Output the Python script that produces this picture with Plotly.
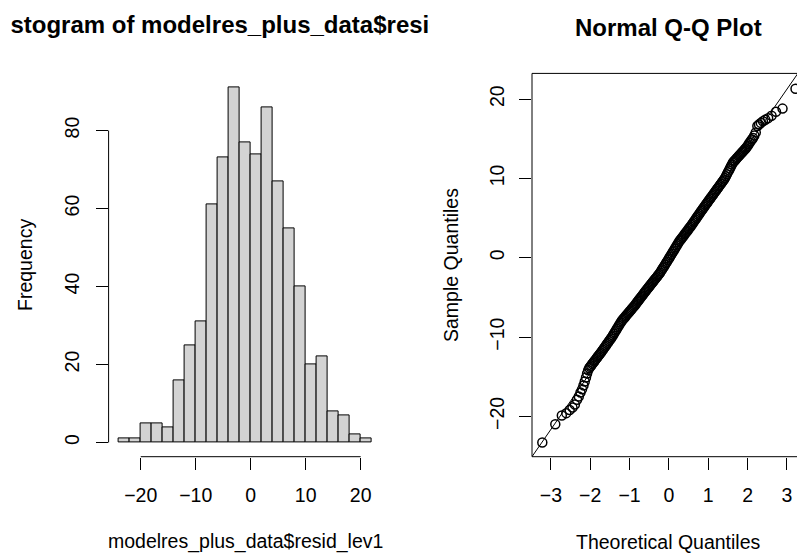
import plotly.graph_objects as go

W, H = 797, 553
FONT = "Liberation Sans, Arial, sans-serif"

# ---------------- data ----------------
hist_title = "Histogram of modelres_plus_data$resid_lev1"
hist_xlabel = "modelres_plus_data$resid_lev1"
hist_ylabel = "Frequency"
hist_bin_starts = [-24, -22, -20, -18, -16, -14, -12, -10, -8, -6, -4, -2,
                   0, 2, 4, 6, 8, 10, 12, 14, 16, 18, 20]
hist_counts = [1, 1, 5, 5, 4, 16, 25, 31, 61, 73, 91, 77,
               74, 86, 67, 55, 40, 20, 22, 8, 7, 2, 1]
hist_bin_width = 2
hist_xticks = [-20, -10, 0, 10, 20]
hist_yticks = [0, 20, 40, 60, 80]

qq_title = "Normal Q-Q Plot"
qq_xlabel = "Theoretical Quantiles"
qq_ylabel = "Sample Quantiles"
qq_xticks = [-3, -2, -1, 0, 1, 2, 3]
qq_yticks = [-20, -10, 0, 10, 20]

# lower tail (individual points)
qq_theo_low = [-3.218, -2.888, -2.722, -2.609, -2.523, -2.451, -2.390, -2.336,
               -2.290, -2.248, -2.208, -2.172, -2.139, -2.108, -2.080, -2.052]
qq_samp_low = [-23.3, -21.0, -19.9, -19.6, -19.2, -18.9, -18.5, -17.9,
               -17.5, -17.0, -16.6, -16.1, -15.6, -15.1, -14.6, -14.2]

# dense central band
qq_theo_mid = [-2.025, -2.000, -1.975, -1.950, -1.925, -1.900, -1.875, -1.850, -1.825, -1.800,
               -1.775, -1.750, -1.725, -1.700, -1.675, -1.650, -1.625, -1.600, -1.575, -1.550,
               -1.525, -1.500, -1.475, -1.450, -1.425, -1.400, -1.375, -1.350, -1.325, -1.300,
               -1.275, -1.250, -1.225, -1.200, -1.175, -1.150, -1.125, -1.100, -1.075, -1.050,
               -1.025, -1.000, -0.975, -0.950, -0.925, -0.900, -0.875, -0.850, -0.825, -0.800,
               -0.775, -0.750, -0.725, -0.700, -0.675, -0.650, -0.625, -0.600, -0.575, -0.550,
               -0.525, -0.500, -0.475, -0.450, -0.425, -0.400, -0.375, -0.350, -0.325, -0.300,
               -0.275, -0.250, -0.225, -0.200, -0.175, -0.150, -0.125, -0.100, -0.075, -0.050,
               -0.025, 0.000, 0.025, 0.050, 0.075, 0.100, 0.125, 0.150, 0.175, 0.200,
               0.225, 0.250, 0.275, 0.300, 0.325, 0.350, 0.375, 0.400, 0.425, 0.450,
               0.475, 0.500, 0.525, 0.550, 0.575, 0.600, 0.625, 0.650, 0.675, 0.700,
               0.725, 0.750, 0.775, 0.800, 0.825, 0.850, 0.875, 0.900, 0.925, 0.950,
               0.975, 1.000, 1.025, 1.050, 1.075, 1.100, 1.125, 1.150, 1.175, 1.200,
               1.225, 1.250, 1.275, 1.300, 1.325, 1.350, 1.375, 1.400, 1.425, 1.450,
               1.475, 1.500, 1.525, 1.550, 1.575, 1.600, 1.625, 1.650, 1.675, 1.700,
               1.725, 1.750, 1.775, 1.800, 1.825, 1.850, 1.875, 1.900, 1.925, 1.950,
               1.975]
qq_samp_mid = [-13.90, -13.74, -13.58, -13.41, -13.25, -13.08, -12.92, -12.76, -12.59, -12.43,
               -12.27, -12.10, -11.94, -11.76, -11.59, -11.41, -11.24, -11.06, -10.89, -10.71,
               -10.54, -10.36, -10.19, -10.01, -9.81, -9.60, -9.40, -9.19, -8.99, -8.78,
               -8.58, -8.37, -8.16, -7.97, -7.82, -7.67, -7.53, -7.38, -7.23, -7.08,
               -6.93, -6.79, -6.64, -6.49, -6.34, -6.20, -6.05, -5.89, -5.73, -5.56,
               -5.40, -5.24, -5.07, -4.91, -4.75, -4.59, -4.42, -4.26, -4.10, -3.94,
               -3.78, -3.63, -3.47, -3.32, -3.16, -3.00, -2.85, -2.69, -2.54, -2.38,
               -2.22, -2.07, -1.89, -1.69, -1.49, -1.29, -1.10, -0.90, -0.70, -0.50,
               -0.30, -0.10, 0.10, 0.30, 0.51, 0.72, 0.92, 1.13, 1.33, 1.54,
               1.74, 1.95, 2.13, 2.29, 2.45, 2.62, 2.78, 2.95, 3.11, 3.28,
               3.44, 3.61, 3.77, 3.93, 4.11, 4.29, 4.47, 4.65, 4.83, 5.01,
               5.19, 5.37, 5.55, 5.73, 5.91, 6.08, 6.25, 6.43, 6.60, 6.77,
               6.94, 7.11, 7.29, 7.46, 7.63, 7.80, 7.97, 8.14, 8.32, 8.49,
               8.66, 8.83, 9.00, 9.17, 9.34, 9.51, 9.68, 9.86, 10.04, 10.28,
               10.52, 10.77, 11.01, 11.25, 11.50, 11.74, 11.98, 12.13, 12.26, 12.40,
               12.54, 12.68, 12.82, 12.95, 13.09, 13.23, 13.37, 13.50, 13.64, 13.78,
               13.92]

# upper tail (individual points)
qq_theo_high = [2.002, 2.026, 2.052, 2.079, 2.108, 2.139, 2.172, 2.208, 2.248,
                2.290, 2.336, 2.390, 2.451, 2.523, 2.609, 2.722, 2.888, 3.218]
qq_samp_high = [14.1, 14.3, 14.5, 14.7, 14.9, 15.1, 15.4, 15.8, 16.6,
                16.8, 17.0, 17.2, 17.4, 17.6, 17.9, 18.4, 18.8, 21.3]

qqline_intercept = -0.20
qqline_slope = 7.15

# ---------------- helpers ----------------
def px_x(p):
    return p / W

def px_y(p):
    return 1 - p / H

TOP, BOTTOM = 73.4, 456.7
ydom = [px_y(BOTTOM), px_y(TOP)]

fig = go.Figure()

# histogram bars
bar_centers = [s + hist_bin_width / 2 for s in hist_bin_starts]
fig.add_trace(go.Bar(
    x=bar_centers, y=hist_counts, width=[hist_bin_width] * len(hist_counts),
    marker=dict(color="#D3D3D3", line=dict(color="black", width=1)),
    xaxis="x", yaxis="y", hoverinfo="skip"))

# QQ points
qq_theo = qq_theo_low + qq_theo_mid + qq_theo_high
qq_samp = qq_samp_low + qq_samp_mid + qq_samp_high
fig.add_trace(go.Scatter(
    x=qq_theo, y=qq_samp, mode="markers",
    marker=dict(symbol="circle-open", size=9, color="black", line=dict(width=1.5)),
    xaxis="x2", yaxis="y2", hoverinfo="skip"))

# QQ reference line
line_x = [-3.6, 3.6]
fig.add_trace(go.Scatter(
    x=line_x, y=[qqline_intercept + qqline_slope * v for v in line_x],
    mode="lines", line=dict(color="black", width=1),
    xaxis="x2", yaxis="y2", hoverinfo="skip"))

TITLE_FONT = dict(family=FONT, size=24, color="black", weight="bold")

# clipped main title of the histogram (as in the original device)
fig.add_trace(go.Scatter(
    x=[245.2], y=[0.5], mode="text", text=[hist_title],
    textposition="middle center", textfont=TITLE_FONT,
    cliponaxis=True, xaxis="x3", yaxis="y3", hoverinfo="skip"))

tickfont = dict(family=FONT, size=19.5, color="black")
common = dict(showgrid=False, zeroline=False, showline=False, ticks="outside",
              ticklen=12, tickwidth=1, tickcolor="black", tickfont=tickfont)

fig.update_layout(
    width=W, height=H, margin=dict(l=0, r=0, t=0, b=0),
    paper_bgcolor="white", plot_bgcolor="white", showlegend=False,
    bargap=0,
    xaxis=dict(domain=[px_x(108.6), px_x(381.8)], range=[-25.84, 23.84],
               tickvals=hist_xticks, anchor="y", ticklabelstandoff=9, **common),
    yaxis=dict(domain=ydom, range=[-3.64, 94.64], tickvals=hist_yticks,
               tickangle=-90, anchor="x", ticklabelstandoff=9, **common),
    xaxis2=dict(domain=[px_x(532), 1.0], range=[-3.48, 3.256],
                tickvals=qq_xticks, anchor="y2", ticklabelstandoff=9, **common),
    yaxis2=dict(domain=ydom, range=[-25.09, 23.24], tickvals=qq_yticks,
                tickangle=-90, anchor="x2", ticklabelstandoff=7, **common),
    xaxis3=dict(domain=[px_x(10), px_x(430)], range=[10, 430], visible=False, anchor="y3"),
    yaxis3=dict(domain=[px_y(51), px_y(3)], range=[0, 1], visible=False, anchor="x3"),
)

# axis lines in R style
shapes = [
    dict(type="line", xref="x", yref="y domain", x0=hist_xticks[0], x1=hist_xticks[-1],
         y0=0, y1=0, line=dict(color="black", width=1)),
    dict(type="line", xref="x domain", yref="y", x0=0, x1=0,
         y0=hist_yticks[0], y1=hist_yticks[-1], line=dict(color="black", width=1)),
    dict(type="line", xref="x2 domain", yref="y2 domain", x0=0, x1=0, y0=0, y1=1,
         line=dict(color="black", width=1)),
    dict(type="line", xref="x2 domain", yref="y2 domain", x0=0, x1=1, y0=1, y1=1,
         line=dict(color="black", width=1)),
    dict(type="line", xref="x2 domain", yref="y2 domain", x0=0, x1=1, y0=0, y1=0,
         line=dict(color="black", width=1)),
]
fig.update_layout(shapes=shapes)

lab = dict(family=FONT, size=19.5, color="black")
ann = [
    dict(text=hist_ylabel, x=px_x(25), y=px_y(265), textangle=-90, font=lab),
    dict(text=hist_xlabel, x=px_x(245.2), y=px_y(541.7), font=lab),
    dict(text=qq_title, x=px_x(668.9), y=px_y(27), font=TITLE_FONT),
    dict(text=qq_ylabel, x=px_x(451), y=px_y(265), textangle=-90, font=lab),
    dict(text=qq_xlabel, x=px_x(668.9), y=px_y(541.7), font=lab),
]
for a in ann:
    a.update(xref="paper", yref="paper", showarrow=False, xanchor="center", yanchor="middle")
fig.update_layout(annotations=ann)

fig.write_html("out.html", config={"displayModeBar": False},
               post_script="document.body.style.margin='0';document.body.style.overflow='hidden';")
